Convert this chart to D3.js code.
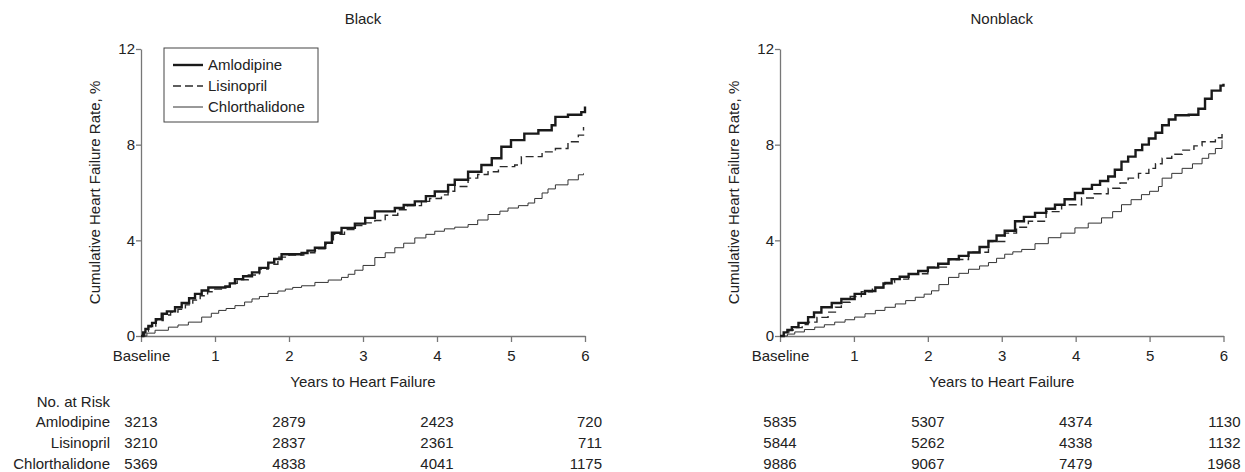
<!DOCTYPE html>
<html>
<head>
<meta charset="utf-8">
<script src="https://cdn.jsdelivr.net/npm/d3@7"></script>
<style>
body { margin: 0; background: #fff; }
text { font-family: "Liberation Sans", Arial, Helvetica, sans-serif; fill: #222; }
</style>
</head>
<body>
<div id="chart"></div>
<script>
// panels, series and axis labels
var groups = ["Black", "Nonblack"];
var drugs = ["Amlodipine", "Lisinopril", "Chlorthalidone"];
var yTicks = [0, 4, 8, 12];
var xTicks = [0, 1, 2, 3, 4, 5, 6];
var xTickLabels = ["Baseline", "1", "2", "3", "4", "5", "6"];
var riskYears = [0, 2, 4, 6];

// cumulative heart failure rate, % (years, rate)
var blackAmlodipine = [[0,0],[0.03,0.15],[0.06,0.3],[0.1,0.42],[0.15,0.55],[0.2,0.7],[0.28,0.93],[0.35,1.03],[0.46,1.2],[0.55,1.38],[0.65,1.58],[0.73,1.76],[0.82,1.9],[0.91,2.03],[1.14,2.07],[1.2,2.2],[1.27,2.38],[1.38,2.5],[1.5,2.66],[1.6,2.85],[1.72,3.07],[1.8,3.22],[1.9,3.42],[2.17,3.47],[2.25,3.57],[2.35,3.69],[2.49,3.9],[2.58,4.32],[2.71,4.52],[2.89,4.7],[3.03,4.94],[3.16,5.21],[3.43,5.35],[3.55,5.48],[3.7,5.63],[3.85,5.85],[3.97,6.04],[4.15,6.32],[4.24,6.53],[4.42,6.87],[4.6,7.15],[4.74,7.43],[4.87,7.91],[5.0,8.19],[5.18,8.46],[5.37,8.6],[5.55,8.81],[5.6,9.16],[5.77,9.25],[5.95,9.36],[6.0,9.6]];
var blackLisinopril = [[0,0],[0.05,0.2],[0.1,0.38],[0.2,0.65],[0.3,0.88],[0.4,1.0],[0.5,1.12],[0.6,1.3],[0.7,1.5],[0.8,1.68],[0.9,1.85],[0.98,1.96],[1.1,2.05],[1.2,2.2],[1.3,2.35],[1.45,2.55],[1.6,2.8],[1.72,3.0],[1.85,3.3],[2.0,3.38],[2.2,3.48],[2.35,3.65],[2.5,3.9],[2.6,4.25],[2.75,4.45],[2.9,4.62],[3.03,4.73],[3.16,4.83],[3.3,5.05],[3.47,5.28],[3.6,5.45],[3.79,5.63],[3.9,5.75],[4.06,5.9],[4.15,6.05],[4.24,6.25],[4.42,6.6],[4.55,6.75],[4.69,6.87],[4.83,7.08],[5.05,7.15],[5.14,7.5],[5.42,7.7],[5.6,7.84],[5.77,8.12],[5.91,8.4],[5.98,8.74]];
var blackChlorthalidone = [[0,0],[0.08,0.12],[0.19,0.24],[0.37,0.37],[0.5,0.46],[0.64,0.58],[0.82,0.79],[0.95,0.95],[1.05,1.07],[1.15,1.15],[1.27,1.27],[1.4,1.42],[1.5,1.55],[1.6,1.65],[1.72,1.78],[1.85,1.88],[1.95,1.96],[2.05,2.03],[2.17,2.1],[2.35,2.24],[2.53,2.34],[2.71,2.45],[2.8,2.58],[2.89,2.75],[3.0,2.95],[3.16,3.28],[3.3,3.48],[3.43,3.69],[3.55,3.88],[3.7,4.1],[3.85,4.25],[3.97,4.38],[4.1,4.48],[4.24,4.55],[4.42,4.66],[4.55,4.85],[4.69,5.08],[4.85,5.22],[4.96,5.35],[5.1,5.45],[5.23,5.56],[5.32,5.75],[5.42,5.98],[5.5,6.15],[5.6,6.32],[5.77,6.53],[5.91,6.74],[5.98,6.8]];

var nonblackAmlodipine = [[0,0],[0.05,0.15],[0.1,0.25],[0.16,0.37],[0.25,0.55],[0.38,0.79],[0.46,0.98],[0.56,1.2],[0.7,1.38],[0.83,1.55],[1.01,1.76],[1.15,1.88],[1.29,2.03],[1.4,2.2],[1.51,2.38],[1.62,2.48],[1.74,2.59],[1.87,2.72],[2.0,2.86],[2.14,3.02],[2.28,3.21],[2.42,3.35],[2.55,3.49],[2.7,3.72],[2.82,3.97],[2.93,4.2],[3.04,4.4],[3.18,4.8],[3.3,4.98],[3.45,5.15],[3.6,5.32],[3.72,5.49],[3.85,5.72],[3.99,5.98],[4.1,6.15],[4.22,6.32],[4.33,6.48],[4.44,6.67],[4.53,6.95],[4.62,7.29],[4.71,7.5],[4.81,7.77],[4.9,8.0],[4.99,8.26],[5.08,8.5],[5.17,8.81],[5.26,9.05],[5.35,9.23],[5.53,9.25],[5.66,9.5],[5.75,9.92],[5.84,10.26],[5.96,10.47],[6.0,10.55]];
var nonblackLisinopril = [[0,0],[0.05,0.12],[0.12,0.25],[0.2,0.35],[0.3,0.48],[0.38,0.58],[0.5,0.78],[0.65,1.0],[0.75,1.2],[0.83,1.41],[0.95,1.65],[1.1,1.85],[1.25,2.02],[1.42,2.24],[1.55,2.38],[1.74,2.6],[2.0,2.88],[2.28,3.2],[2.55,3.5],[2.82,3.95],[3.04,4.3],[3.2,4.55],[3.36,4.8],[3.6,5.2],[3.81,5.49],[4.08,5.77],[4.25,5.95],[4.44,6.18],[4.6,6.4],[4.71,6.6],[4.85,6.8],[4.99,7.01],[5.08,7.2],[5.17,7.43],[5.3,7.6],[5.44,7.77],[5.6,7.95],[5.71,8.12],[5.89,8.29],[5.98,8.53]];
var nonblackChlorthalidone = [[0,0],[0.1,0.08],[0.2,0.17],[0.33,0.27],[0.47,0.37],[0.6,0.47],[0.74,0.58],[0.88,0.68],[1.01,0.79],[1.15,0.93],[1.29,1.07],[1.42,1.2],[1.56,1.34],[1.7,1.48],[1.83,1.62],[1.95,1.75],[2.05,1.89],[2.15,2.15],[2.28,2.45],[2.42,2.62],[2.55,2.79],[2.7,2.93],[2.82,3.07],[2.93,3.25],[3.04,3.42],[3.15,3.52],[3.27,3.62],[3.45,3.86],[3.63,4.11],[3.8,4.3],[3.99,4.52],[4.17,4.72],[4.35,4.94],[4.5,5.2],[4.62,5.49],[4.75,5.7],[4.89,5.91],[5.0,6.05],[5.12,6.25],[5.17,6.6],[5.3,6.8],[5.44,7.01],[5.58,7.2],[5.71,7.43],[5.8,7.62],[5.89,7.84],[5.98,8.19]];

// number at risk at baseline, 2, 4, 6 years
var blackRiskAmlodipine = [3213, 2879, 2423, 720];
var blackRiskLisinopril = [3210, 2837, 2361, 711];
var blackRiskChlorthalidone = [5369, 4838, 4041, 1175];
var nonblackRiskAmlodipine = [5835, 5307, 4374, 1130];
var nonblackRiskLisinopril = [5844, 5262, 4338, 1132];
var nonblackRiskChlorthalidone = [9886, 9067, 7479, 1968];

var curves = [
    [blackAmlodipine, blackLisinopril, blackChlorthalidone],
    [nonblackAmlodipine, nonblackLisinopril, nonblackChlorthalidone]
];
var risks = [
    [blackRiskAmlodipine, blackRiskLisinopril, blackRiskChlorthalidone],
    [nonblackRiskAmlodipine, nonblackRiskLisinopril, nonblackRiskChlorthalidone]
];

// line look for each drug
var lineStyle = [
    {width: 2.4, dash: null, color: "#1a1a1a"},
    {width: 1.4, dash: "8,4", color: "#2a2a2a"},
    {width: 1, dash: null, color: "#333"}
];

var svg = d3.select("#chart").append("svg")
    .attr("width", 1245)
    .attr("height", 472);

var panelX = [[141, 585], [780, 1223.5]];
var rowY = [427, 448, 469];

groups.forEach(function(name, p) {
    var x = d3.scaleLinear().domain([0, 6]).range(panelX[p]);
    var y = d3.scaleLinear().domain([0, 12]).range([336, 49]);
    var g = svg.append("g");

    g.append("text")
        .attr("x", (panelX[p][0] + panelX[p][1]) / 2)
        .attr("y", 24)
        .attr("text-anchor", "middle")
        .style("font-size", "15px")
        .text(name);

    var xAxis = g.append("g")
        .attr("transform", "translate(0,336)")
        .call(d3.axisBottom(x).tickValues(xTicks).tickSize(6).tickSizeOuter(0)
            .tickFormat(function(d, i) { return xTickLabels[i]; }));
    var yAxis = g.append("g")
        .attr("transform", "translate(" + panelX[p][0] + ",0)")
        .call(d3.axisLeft(y).tickValues(yTicks).tickSize(5).tickSizeOuter(0));

    [xAxis, yAxis].forEach(function(a) {
        a.select(".domain").attr("stroke", "#777").attr("stroke-width", 1.3);
        a.selectAll(".tick line").attr("stroke", "#777").attr("stroke-width", 1.3);
        a.selectAll(".tick text").style("font-size", "15px").attr("fill", "#333")
            .style("font-family", "'Liberation Sans', Arial, sans-serif");
    });
    xAxis.selectAll(".tick text").attr("dy", "1.05em");
    yAxis.selectAll(".tick text").attr("x", -6);

    g.append("text")
        .attr("x", (panelX[p][0] + panelX[p][1]) / 2)
        .attr("y", 387)
        .attr("text-anchor", "middle")
        .style("font-size", "15px")
        .text("Years to Heart Failure");

    g.append("text")
        .attr("transform", "translate(" + (panelX[p][0] - 41) + "," + y(6) + ") rotate(-90)")
        .attr("text-anchor", "middle")
        .style("font-size", "15px")
        .text("Cumulative Heart Failure Rate, %");

    var line = d3.line()
        .curve(d3.curveStepAfter)
        .x(function(d) { return x(d[0]); })
        .y(function(d) { return y(d[1]); });

    // draw chlorthalidone first so the heavy line sits on top
    [2, 1, 0].forEach(function(k) {
        g.append("path")
            .attr("d", line(curves[p][k]))
            .attr("fill", "none")
            .attr("stroke", lineStyle[k].color)
            .attr("stroke-width", lineStyle[k].width)
            .attr("stroke-dasharray", lineStyle[k].dash);
    });

    // number at risk
    risks[p].forEach(function(row, k) {
        row.forEach(function(v, j) {
            var last = j == riskYears.length - 1;
            g.append("text")
                .attr("x", last ? x(riskYears[j]) + 17 : x(riskYears[j]))
                .attr("y", rowY[k])
                .attr("text-anchor", last ? "end" : "middle")
                .style("font-size", "15px")
                .text(v);
        });
    });
});

// row labels of the risk table
svg.append("text")
    .attr("x", 110).attr("y", 407)
    .attr("text-anchor", "end")
    .style("font-size", "15px")
    .text("No. at Risk");
drugs.forEach(function(d, k) {
    svg.append("text")
        .attr("x", 110).attr("y", rowY[k])
        .attr("text-anchor", "end")
        .style("font-size", "15px")
        .text(d);
});

// legend in the Black panel
var legend = svg.append("g");
legend.append("rect")
    .attr("x", 164).attr("y", 48)
    .attr("width", 154).attr("height", 74)
    .attr("fill", "#fff")
    .attr("stroke", "#444")
    .attr("stroke-width", 1);
drugs.forEach(function(d, k) {
    var ly = 65 + k * 21;
    legend.append("line")
        .attr("x1", 173).attr("x2", 203)
        .attr("y1", ly).attr("y2", ly)
        .attr("stroke", lineStyle[k].color)
        .attr("stroke-width", lineStyle[k].width)
        .attr("stroke-dasharray", lineStyle[k].dash);
    legend.append("text")
        .attr("x", 208).attr("y", ly + 5)
        .style("font-size", "15px")
        .text(d);
});
</script>
</body>
</html>
